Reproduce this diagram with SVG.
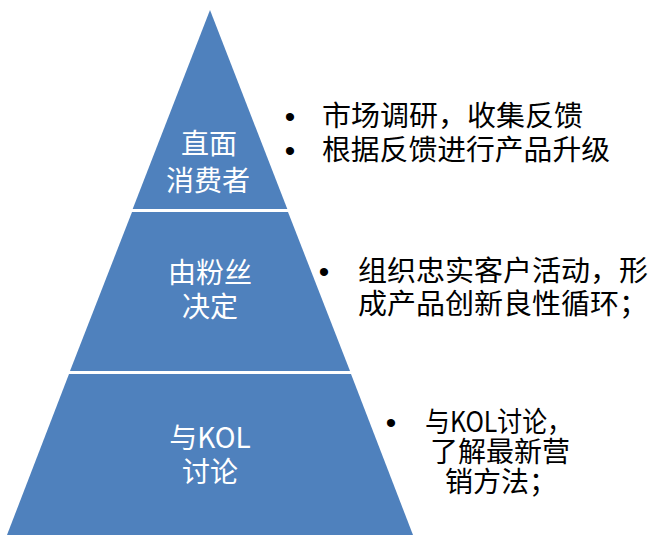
<svg xmlns="http://www.w3.org/2000/svg" width="654" height="535" viewBox="0 0 654 535">
<style>
.tier{fill:#4F81BD;}
.lbl{fill:#FFFFFF;font-family:"Noto Sans CJK SC","Liberation Sans",sans-serif;font-size:28px;text-anchor:middle;}
.txt{fill:#000000;font-family:"Noto Sans CJK SC","Liberation Sans",sans-serif;font-size:28px;}
.blt{fill:#000000;font-family:"Liberation Sans",sans-serif;font-size:30px;text-anchor:middle;}
</style>
<rect width="654" height="535" fill="#FFFFFF"/>
<g id="tier-top">
<polygon class="tier" points="210,10 287.3,209 132.7,209"/>
<text class="lbl"><tspan x="209" y="154">直面</tspan><tspan x="208" y="191">消费者</tspan></text>
</g>
<g id="tier-middle">
<polygon class="tier" points="132,212 288,212 350,371 70,371"/>
<text class="lbl"><tspan x="210" y="283">由粉丝</tspan><tspan x="210" y="317">决定</tspan></text>
</g>
<g id="tier-bottom">
<polygon class="tier" points="69,374 351,374 413,535 7,535"/>
<text class="lbl"><tspan x="210" y="448">与KOL</tspan><tspan x="210" y="482">讨论</tspan></text>
</g>
<g id="note-top">
<text class="blt"><tspan x="290" y="127">•</tspan><tspan x="290" y="161">•</tspan></text>
<text class="txt"><tspan x="322" y="126" textLength="261" lengthAdjust="spacingAndGlyphs">市场调研，收集反馈</tspan><tspan x="322" y="160" textLength="288" lengthAdjust="spacingAndGlyphs">根据反馈进行产品升级</tspan></text>
</g>
<g id="note-middle">
<text class="blt" x="324" y="282">•</text>
<text class="txt"><tspan x="358" y="281" textLength="290" lengthAdjust="spacingAndGlyphs">组织忠实客户活动，形</tspan><tspan x="358" y="314" textLength="290" lengthAdjust="spacingAndGlyphs">成产品创新良性循环；</tspan></text>
</g>
<g id="note-bottom">
<text class="blt" x="391" y="433">•</text>
<text class="txt"><tspan x="425" y="432" textLength="147" lengthAdjust="spacingAndGlyphs">与KOL讨论，</tspan><tspan x="430" y="462">了解最新营</tspan><tspan x="445" y="492">销方法；</tspan></text>
</g>
<g id="connectors"></g>
</svg>
